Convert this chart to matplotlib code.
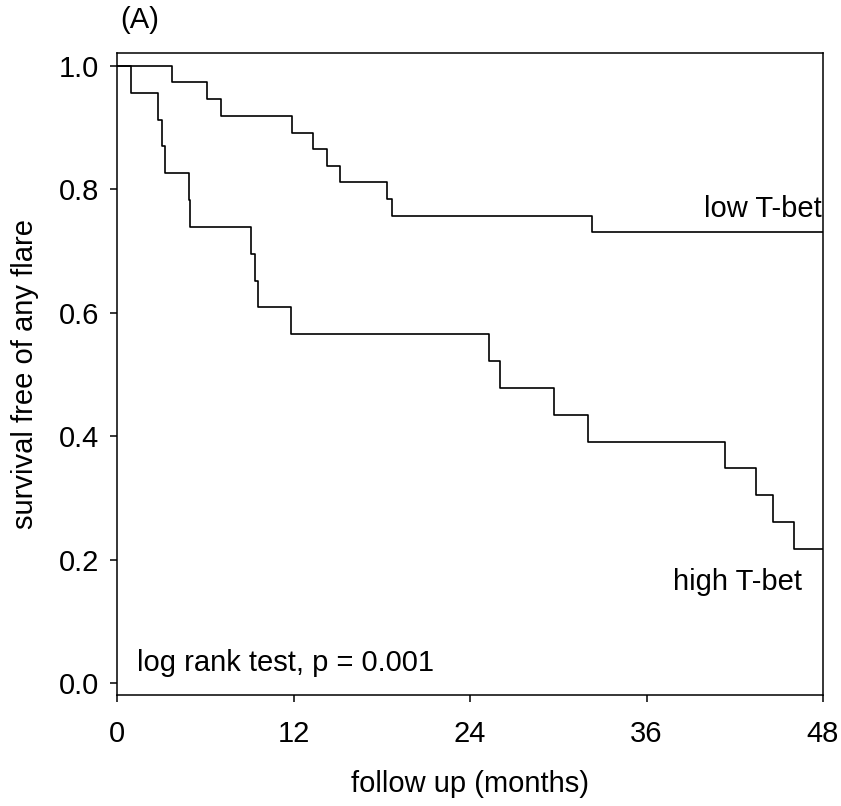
import matplotlib
matplotlib.use("Agg")
import matplotlib.pyplot as plt

plt.rcParams['font.family'] = ['Liberation Sans', 'DejaVu Sans']

# Kaplan-Meier step data (time in months, survival)
low_t = [0, 3.73, 6.11, 7.05, 11.9, 13.3, 14.3, 15.19, 18.39, 18.7, 32.3, 48]
low_s = [1.0, 0.9737, 0.9465, 0.919, 0.892, 0.865, 0.838, 0.8115, 0.784, 0.757, 0.7305, 0.7305]

high_t = [0, 0.97, 2.78, 3.05, 3.28, 4.9, 4.95, 9.13, 9.4, 9.58, 11.86, 25.29, 26.06,
          29.73, 32.0, 41.37, 43.42, 44.58, 46.03, 48]
high_s = [1.0, 0.9565, 0.913, 0.870, 0.826, 0.783, 0.739, 0.696, 0.652, 0.609, 0.565,
          0.522, 0.478, 0.435, 0.391, 0.348, 0.304, 0.261, 0.217, 0.217]

x_ticks = [0, 12, 24, 36, 48]
y_ticks = [0.0, 0.2, 0.4, 0.6, 0.8, 1.0]
y_tick_labels = ["0.0", "0.2", "0.4", "0.6", "0.8", "1.0"]

FS = 21

fig = plt.figure(figsize=(8.41, 8.06), dpi=100)
ax = fig.add_axes([117/841, 1-695/806, (823-117)/841, (695-53)/806])

ax.step(low_t, low_s, where='post', color='black', lw=1.2)
ax.step(high_t, high_s, where='post', color='black', lw=1.2)

ax.set_xlim(0, 48)
ax.set_ylim(-0.0195, 1.021)
ax.set_xticks(x_ticks)
ax.set_xticklabels([str(v) for v in x_ticks])
ax.set_yticks(y_ticks)
ax.set_yticklabels(y_tick_labels)
ax.tick_params(axis='x', direction='out', length=5, width=1.1, pad=13, labelsize=FS)
ax.tick_params(axis='y', direction='out', length=5, width=1.1, pad=8, labelsize=FS)
for sp in ax.spines.values():
    sp.set_linewidth(1.1)

ax.set_xlabel("follow up (months)", fontsize=FS, labelpad=16)
ax.set_ylabel("survival free of any flare", fontsize=FS, labelpad=14)

ax.text(47.9, 0.768, "low T-bet", fontsize=FS, ha='right', va='center')
ax.text(46.6, 0.164, "high T-bet", fontsize=FS, ha='right', va='center')
ax.text(1.33, 0.032, "log rank test, p = 0.001", fontsize=FS, ha='left', va='center')
fig.text(140/841, 1-20/806, "(A)", fontsize=FS, ha='center', va='center')

fig.savefig("out.png", dpi=100)
